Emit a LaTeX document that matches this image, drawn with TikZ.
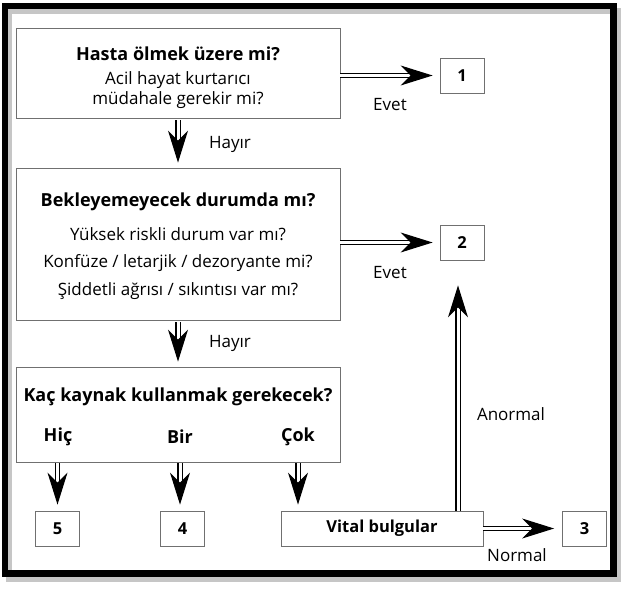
\documentclass[tikz,border=0pt]{standalone}
\usepackage{fontspec}
\setmainfont{Open Sans}
\usetikzlibrary{arrows.meta,positioning,calc}
\definecolor{boxgray}{HTML}{707070}

\begin{document}
\begin{tikzpicture}[
x=1pt,y=-1pt,
question/.style={draw=boxgray,line width=0.8pt,align=center,
minimum width=324pt,inner sep=0pt,
font=\fontsize{17}{20}\selectfont},
result/.style={draw=boxgray,line width=0.8pt,minimum width=44pt,
minimum height=35pt,inner sep=0pt,font=\bfseries\fontsize{16.5}{18}\selectfont},
ttl/.style={font=\bfseries\fontsize{18}{20}\selectfont,inner sep=0pt},
lbl/.style={font=\fontsize{17}{18}\selectfont,inner sep=0pt},
flow/.style={double=white,double distance=3pt,line width=1.1pt,
-{Stealth[length=32pt,width=20pt,inset=10pt]}}
]
\useasboundingbox (0,0) rectangle (629,591);
% frame with shadow
\draw[gray!45,line width=6.5pt] (9,11) rectangle (618,579);
\draw[line width=6.5pt] (5,6) rectangle (613.5,573.5);

\node[question,minimum height=90pt] (qa) at (178,73)
{\rule{0pt}{24pt}{\bfseries\fontsize{18}{20}\selectfont Hasta ölmek üzere mi?}\\[4pt]
Acil hayat kurtarıcı\\ müdahale gerekir mi?};
\node[question,minimum height=152pt] (qb) at (178,244)
{\rule{0pt}{18pt}{\bfseries\fontsize{18}{20}\selectfont Bekleyemeyecek durumda mı?}\\[14pt]
Yüksek riskli durum var mı?\\[7pt]
Konfüze / letarjik / dezoryante mi?\\[8pt]
Şiddetli ağrısı / sıkıntısı var mı?};
\node[question,minimum height=95pt] (qc) at (178,414.5) {};
\node[ttl] (qct) at (178,397) {Kaç kaynak kullanmak gerekecek?};
\node[ttl] (hic) at (58,437) {Hiç};
\node[ttl] (bir) at (180,437) {Bir};
\node[ttl] (cok) at (298,437) {Çok};

\node[result] (r1) at (462,75.5) {1};
\node[result] (r2) at (462,242.5) {2};
\node[result] (r5) at (57.5,528.5) {5};
\node[result] (r4) at (182.5,528.5) {4};
\node[result] (r3) at (584.5,528.5) {3};
\node[result,minimum width=202pt] (vital) at (382,528.5) {Vital bulgular};

\node[lbl] (evet1) at (390,105) {Evet};
\node[lbl] (hayir1) at (230,144) {Hayır};
\node[lbl] (evet2) at (390,273) {Evet};
\node[lbl] (hayir2) at (230,343) {Hayır};
\node[lbl] (anormal) at (511,414) {Anormal};
\node[lbl] (normal) at (517,555) {Normal};

\draw[flow,shorten >=7pt] (qa.east |- r1) -- (r1);
\draw[flow,shorten >=7pt] (qb.east |- r2) -- (r2);
\draw[flow,shorten <=2pt,shorten >=5pt] (qa) -- (qb);
\draw[flow,shorten <=2pt,shorten >=5pt] (qb) -- (qc);
\draw[flow,shorten <=1pt,shorten >=6pt] (qc.south -| r5) -- (r5);
\draw[flow,shorten <=1pt,shorten >=6pt] (qc.south -| bir) -- (bir |- r4.north);
\draw[flow,shorten <=1pt,shorten >=6pt] (qc.south -| cok) -- (cok |- vital.north);
\draw[flow,shorten >=8pt] (vital) -- (r3);
\draw[flow,shorten >=25pt] ($(vital.north -| r2)+(-4,0)$) -- ($(r2.south)+(-4,0)$);
\end{tikzpicture}
\end{document}
